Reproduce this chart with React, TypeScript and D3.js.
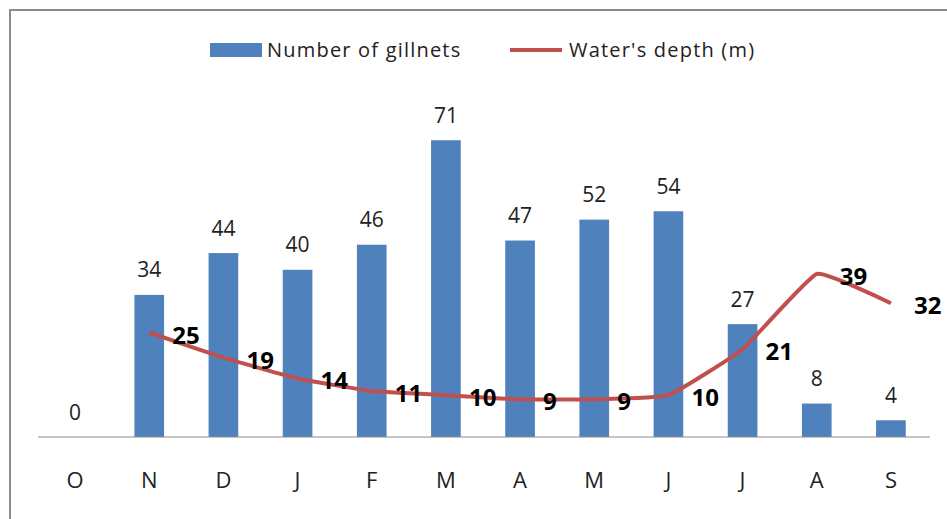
import { useEffect, useRef } from 'react';
import * as d3 from 'd3';

const months = ['O', 'N', 'D', 'J', 'F', 'M', 'A', 'M', 'J', 'J', 'A', 'S'];
const gillnets = [0, 34, 44, 40, 46, 71, 47, 52, 54, 27, 8, 4];
const depth: (number | null)[] = [null, 25, 19, 14, 11, 10, 9, 9, 10, 21, 39, 32];

const W = 947;
const H = 519;
const FONT = '"Open Sans", "Noto Sans", sans-serif';

const App = () => {
  const svgRef = useRef<SVGSVGElement>(null);

  useEffect(() => {
    if (!svgRef.current) return;
    const svg = d3.select(svgRef.current);
    svg.selectAll('*').remove();

    // outer frame (only left and top are visible in the picture)
    svg.append('rect')
      .attr('x', 10).attr('y', 10)
      .attr('width', W + 20).attr('height', H + 20)
      .attr('fill', '#fff')
      .attr('stroke', '#8c8c8c')
      .attr('stroke-width', 2);

    const x = d3.scaleBand<number>()
      .domain(months.map((_, i) => i))
      .range([38, 928])
      .paddingInner(0.6)
      .paddingOuter(0.3);

    const y = d3.scaleLinear().domain([0, 80]).range([437, 102.6]);

    const cx = (i: number) => (x(i) as number) + x.bandwidth() / 2;

    // bars
    svg.append('g')
      .selectAll('rect')
      .data(gillnets)
      .enter()
      .append('rect')
      .attr('x', (_, i) => x(i) as number)
      .attr('y', d => y(d))
      .attr('width', x.bandwidth())
      .attr('height', d => y(0) - y(d))
      .attr('fill', '#4F81BD');

    // baseline
    svg.append('line')
      .attr('x1', 38).attr('x2', 930)
      .attr('y1', y(0)).attr('y2', y(0))
      .attr('stroke', '#8c8c8c')
      .attr('stroke-width', 1.2);

    // bar labels
    svg.append('g')
      .selectAll('text')
      .data(gillnets)
      .enter()
      .append('text')
      .attr('x', (_, i) => cx(i))
      .attr('y', d => y(d) - 17.5)
      .attr('text-anchor', 'middle')
      .style('font-family', FONT)
      .style('font-size', '21px')
      .style('fill', '#222')
      .text(d => d);

    // category labels
    svg.append('g')
      .selectAll('text')
      .data(months)
      .enter()
      .append('text')
      .attr('x', (_, i) => cx(i))
      .attr('y', 488)
      .attr('text-anchor', 'middle')
      .style('font-family', FONT)
      .style('font-size', '22px')
      .style('fill', '#222')
      .text(d => d);

    // depth line
    const pts = depth
      .map((d, i) => ({ d, i }))
      .filter(p => p.d !== null) as { d: number; i: number }[];

    const line = d3.line<{ d: number; i: number }>()
      .x(p => cx(p.i))
      .y(p => y(p.d))
      .curve(d3.curveCardinal.tension(0.65));

    svg.append('path')
      .datum(pts)
      .attr('d', line)
      .attr('fill', 'none')
      .attr('stroke', '#C0504D')
      .attr('stroke-width', 4)
      .attr('stroke-linejoin', 'round');

    svg.append('g')
      .selectAll('text')
      .data(pts)
      .enter()
      .append('text')
      .attr('x', p => cx(p.i) + 23)
      .attr('y', p => y(p.d) + 11)
      .style('font-family', FONT)
      .style('font-size', '24px')
      .style('font-weight', 'bold')
      .style('fill', '#000')
      .text(p => p.d);

    // legend
    const lg = svg.append('g');
    lg.append('rect')
      .attr('x', 210).attr('y', 43)
      .attr('width', 52).attr('height', 14)
      .attr('fill', '#4F81BD');
    lg.append('text')
      .attr('x', 267).attr('y', 57)
      .style('font-family', FONT)
      .style('font-size', '20px')
      .style('letter-spacing', '1.2px')
      .style('fill', '#222')
      .text('Number of gillnets');
    lg.append('line')
      .attr('x1', 510).attr('x2', 562)
      .attr('y1', 50).attr('y2', 50)
      .attr('stroke', '#C0504D')
      .attr('stroke-width', 4);
    lg.append('text')
      .attr('x', 569).attr('y', 57)
      .style('font-family', FONT)
      .style('font-size', '20px')
      .style('letter-spacing', '1.2px')
      .style('fill', '#222')
      .text("Water's depth (m)");
  }, []);

  return (
    <svg
      ref={svgRef}
      width={W}
      height={H}
      style={{ position: 'absolute', left: 0, top: 0, background: '#fff' }}
    />
  );
};

export default App;
